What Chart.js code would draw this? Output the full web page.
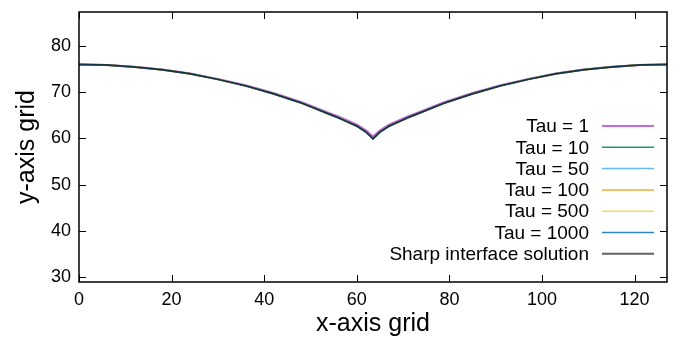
<!DOCTYPE html>
<html>
<head>
<meta charset="utf-8">
<script src="https://cdn.jsdelivr.net/npm/chart.js@4.4.1/dist/chart.umd.min.js"></script>
<style>
  html, body { margin: 0; padding: 0; background: #fff; }
  #wrap { width: 685px; height: 341px; }
</style>
</head>
<body>
<div id="wrap"><canvas id="gridChart" width="685" height="341"></canvas></div>
<script>
// x positions along the grid (shared by every series)
const xGrid = [0, 6, 12, 18, 24, 30, 36, 42, 48, 54, 56, 58, 60, 62, 63.5, 65, 67, 69, 71, 73, 79, 85, 91, 97, 103, 109, 115, 121, 127];

// values
const tau1    = [76.0, 75.9, 75.55, 74.95, 74.1, 72.9, 71.55, 69.85, 67.9, 65.55, 64.75, 63.9, 63.0, 61.75, 60.4, 61.75, 63.0, 63.9, 64.75, 65.55, 67.9, 69.85, 71.55, 72.9, 74.1, 74.95, 75.55, 75.9, 76.0];
const tau10   = [76.0, 75.9, 75.5, 74.9, 74.0, 72.8, 71.4, 69.7, 67.7, 65.3, 64.5, 63.6, 62.7, 61.4, 59.9, 61.4, 62.7, 63.6, 64.5, 65.3, 67.7, 69.7, 71.4, 72.8, 74.0, 74.9, 75.5, 75.9, 76.0];
const tau50   = [76.0, 75.9, 75.5, 74.9, 74.0, 72.8, 71.4, 69.7, 67.7, 65.3, 64.5, 63.6, 62.7, 61.4, 59.95, 61.4, 62.7, 63.6, 64.5, 65.3, 67.7, 69.7, 71.4, 72.8, 74.0, 74.9, 75.5, 75.9, 76.0];
const tau100  = [76.0, 75.9, 75.5, 74.9, 74.0, 72.8, 71.4, 69.7, 67.7, 65.3, 64.5, 63.6, 62.7, 61.4, 59.95, 61.4, 62.7, 63.6, 64.5, 65.3, 67.7, 69.7, 71.4, 72.8, 74.0, 74.9, 75.5, 75.9, 76.0];
const tau500  = [76.0, 75.9, 75.5, 74.9, 74.0, 72.8, 71.4, 69.7, 67.7, 65.3, 64.5, 63.6, 62.7, 61.4, 59.95, 61.4, 62.7, 63.6, 64.5, 65.3, 67.7, 69.7, 71.4, 72.8, 74.0, 74.9, 75.5, 75.9, 76.0];
const tau1000 = [76.0, 75.9, 75.5, 74.9, 74.0, 72.8, 71.4, 69.7, 67.7, 65.3, 64.5, 63.6, 62.7, 61.4, 59.85, 61.4, 62.7, 63.6, 64.5, 65.3, 67.7, 69.7, 71.4, 72.8, 74.0, 74.9, 75.5, 75.9, 76.0];
const sharp   = [76.0, 75.9, 75.5, 74.9, 74.0, 72.8, 71.4, 69.7, 67.7, 65.3, 64.5, 63.6, 62.7, 61.4, 60.0, 61.4, 62.7, 63.6, 64.5, 65.3, 67.7, 69.7, 71.4, 72.8, 74.0, 74.9, 75.5, 75.9, 76.0];

const seriesLabels = ['Tau = 1', 'Tau = 10', 'Tau = 50', 'Tau = 100', 'Tau = 500', 'Tau = 1000', 'Sharp interface solution'];
const seriesValues = [tau1, tau10, tau50, tau100, tau500, tau1000, sharp];
const seriesColors = ['#c06aea', '#1a9a74', '#66bbea', '#efc26a', '#ecdf60', '#2e86c4', 'rgba(0,0,0,0.62)'];
const seriesWidths = [2, 1.5, 1.5, 2, 1.5, 1.5, 2];

const FONT = '"Liberation Sans", Arial, Helvetica, sans-serif';

// frame, inward ticks on all four sides, and the gnuplot style key
const framePlugin = {
  id: 'frameAndKey',
  afterDatasetsDraw(chart) {
    const ctx = chart.ctx;
    const a = chart.chartArea;
    const xs = chart.scales.x, ys = chart.scales.y;
    const len = 7;
    ctx.save();
    ctx.strokeStyle = '#000';
    ctx.lineWidth = 1;
    ctx.beginPath();
    xs.ticks.forEach(t => {
      const px = Math.round(xs.getPixelForValue(t.value)) + 0.5;
      ctx.moveTo(px, a.bottom); ctx.lineTo(px, a.bottom - len);
      ctx.moveTo(px, a.top); ctx.lineTo(px, a.top + len);
    });
    ys.ticks.forEach(t => {
      const py = Math.round(ys.getPixelForValue(t.value)) + 0.5;
      ctx.moveTo(a.left, py); ctx.lineTo(a.left + len, py);
      ctx.moveTo(a.right, py); ctx.lineTo(a.right - len, py);
    });
    ctx.stroke();
    ctx.lineWidth = 1.5;
    ctx.strokeRect(a.left, a.top, a.right - a.left, a.bottom - a.top);

    // key
    ctx.font = '19px ' + FONT;
    ctx.textAlign = 'right';
    ctx.textBaseline = 'middle';
    chart.data.datasets.forEach((ds, i) => {
      const y = a.top + 114 + i * 21.3;
      ctx.fillStyle = '#000';
      ctx.fillText(ds.label, a.right - 78, y + 1);
      ctx.strokeStyle = ds.borderColor;
      ctx.lineWidth = ds.borderWidth;
      ctx.beginPath();
      ctx.moveTo(a.right - 65, y);
      ctx.lineTo(a.right - 13, y);
      ctx.stroke();
    });
    ctx.restore();
  }
};

const datasets = seriesLabels.map((label, i) => ({
  label: label,
  data: xGrid.map((x, k) => ({ x: x, y: seriesValues[i][k] })),
  borderColor: seriesColors[i],
  backgroundColor: seriesColors[i],
  borderWidth: seriesWidths[i],
  pointRadius: 0,
  tension: 0,
  fill: false,
  order: seriesLabels.length - 1 - i
}));

new Chart(document.getElementById('gridChart').getContext('2d'), {
  type: 'line',
  data: { datasets: datasets },
  options: {
    responsive: false,
    animation: false,
    devicePixelRatio: 1,
    layout: { padding: { top: 12, right: 18, left: 0, bottom: 0 } },
    plugins: {
      legend: { display: false },
      tooltip: { enabled: false }
    },
    scales: {
      x: {
        type: 'linear',
        min: 0,
        max: 127,
        grid: { display: false, drawTicks: false },
        border: { display: false },
        ticks: { stepSize: 20, includeBounds: false, color: '#000', padding: 7, maxRotation: 0,
                 font: { family: FONT, size: 18 } },
        title: { display: true, text: 'x-axis grid', color: '#000',
                 font: { family: FONT, size: 25 }, padding: { top: 0, bottom: 2 } },
        afterFit(scale) { scale.height = 59; scale.paddingLeft = 0; scale.paddingRight = 0; }
      },
      y: {
        type: 'linear',
        min: 28.9,
        max: 87.4,
        grid: { display: false, drawTicks: false },
        border: { display: false },
        ticks: { stepSize: 10, includeBounds: false, color: '#000', padding: 8,
                 font: { family: FONT, size: 18 } },
        title: { display: true, text: 'y-axis grid', color: '#000',
                 font: { family: FONT, size: 25 }, padding: { top: 12, bottom: 0 } },
        afterFit(scale) { scale.width = 79; scale.paddingTop = 0; scale.paddingBottom = 0; }
      }
    }
  },
  plugins: [framePlugin]
});
</script>
</body>
</html>
